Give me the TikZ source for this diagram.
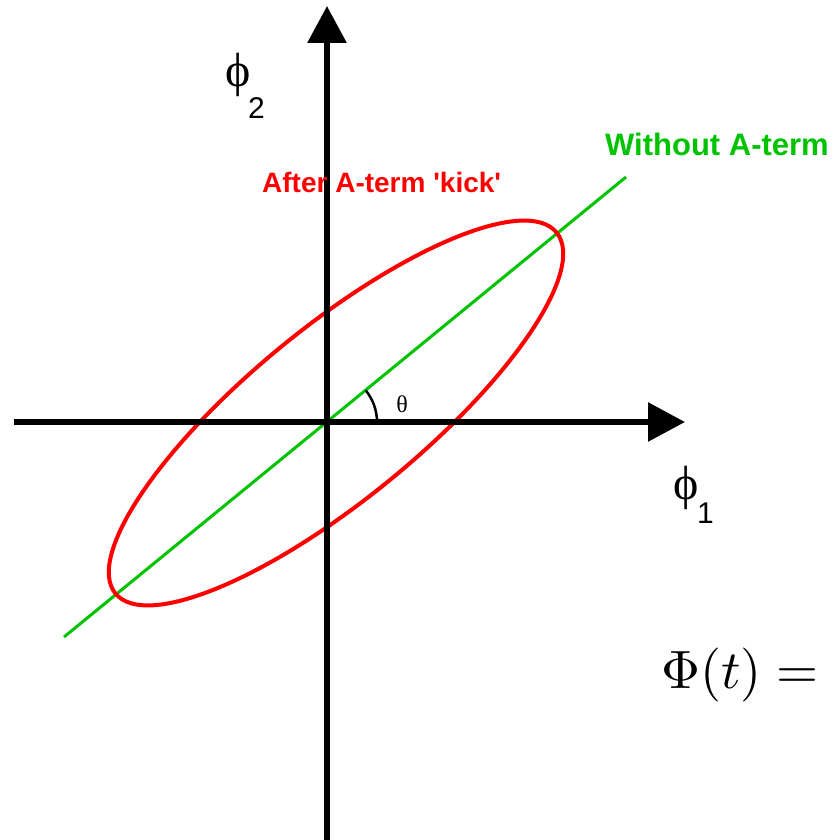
\documentclass[tikz,border=0pt]{standalone}
\usepackage{fontspec}
\setsansfont{Liberation Sans}
\newfontfamily\symfont{Liberation Serif}
\usetikzlibrary{arrows.meta}
\definecolor{myred}{RGB}{255,0,0}
\definecolor{mygreen}{RGB}{0,195,0}
\tikzset{
  axis/.style={line width=6pt,-{Triangle[length=37pt,width=38pt]}},
  lbl/.style={font=\sffamily\bfseries, inner sep=0pt},
  philbl/.style={inner sep=0pt, font=\symfont\fontsize{48}{50}\selectfont},
  sublbl/.style={inner sep=0pt, anchor=base west, font=\sffamily\fontsize{30}{32}\selectfont},
}
\begin{document}
\begin{tikzpicture}[x=1pt,y=-1pt]
\useasboundingbox (0,0) rectangle (834,840);
\coordinate (O) at (327,422);
\coordinate (vb) at (327,842);
\coordinate (vt) at (327,6);
\coordinate (hl) at (14,422);
\coordinate (hr) at (685,422);
\coordinate (g1) at (64,637);
\coordinate (g2) at (626,177);
\draw[mygreen, line width=3pt] (g1) -- (g2);
\draw[myred, line width=4pt] (336,413) ellipse[x radius=285, y radius=86, rotate=39.3];
\draw[axis] (vb) -- (vt);
\draw[axis] (hl) -- (hr);
\draw[line width=2.5pt] ([shift={(-39.3:50)}]O) arc[start angle=-39.3, end angle=0, radius=50];
\node[inner sep=0pt] (th) at (402,404) {\symfont\fontsize{24}{26}\selectfont θ};
\node[philbl] (p2) at (238,75) {ϕ};
\node[sublbl] (s2) at (248,118) {2};
\node[philbl] (p1) at (686,488) {ϕ};
\node[sublbl] (s1) at (697,523) {1};
\node[lbl, text=myred, anchor=base west] (kick) at (262,192) {\fontsize{28}{30}\selectfont After A-term \textquotesingle kick\textquotesingle};
\node[lbl, text=mygreen, anchor=base west] (wo) at (605,155) {\fontsize{31}{33}\selectfont Without A-term};
\node[inner sep=0pt, anchor=base west, scale=5.4] (eq) at (660,688) {$\Phi(t) =$};
\end{tikzpicture}
\end{document}
